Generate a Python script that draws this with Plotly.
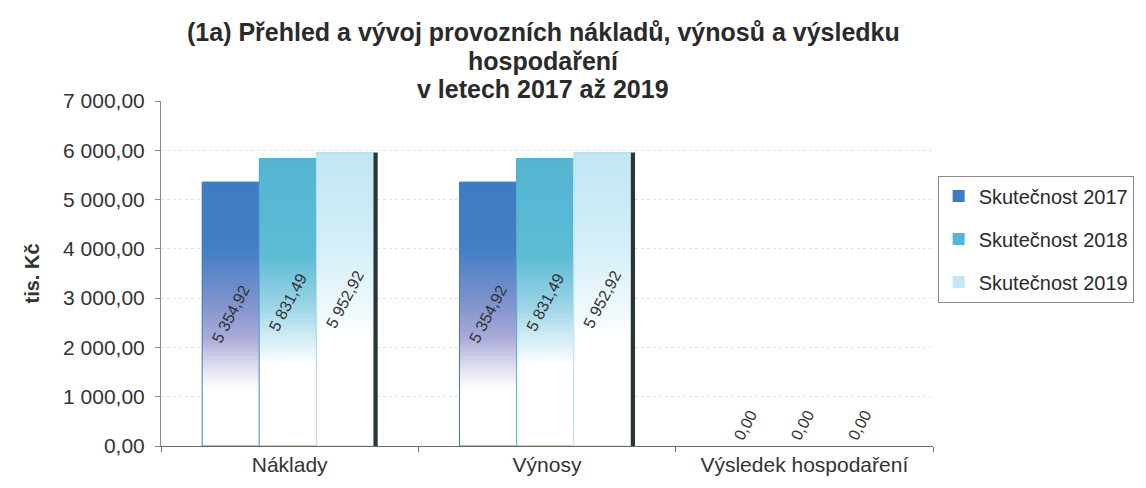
import plotly.graph_objects as go

# ---------------- data ----------------
categories = ["Náklady", "Výnosy", "Výsledek hospodaření"]
series_names = ["Skutečnost 2017", "Skutečnost 2018", "Skutečnost 2019"]
values_2017 = [5354.92, 5354.92, 0.00]
values_2018 = [5831.49, 5831.49, 0.00]
values_2019 = [5952.92, 5952.92, 0.00]
y_ticks = [0, 1000, 2000, 3000, 4000, 5000, 6000, 7000]

title_lines = ["(1a) Přehled a vývoj provozních nákladů, výnosů a výsledku",
               "hospodaření",
               "v letech 2017 až 2019"]
y_title = "<b>tis. Kč</b>"

# ---------------- styling ----------------
FONT = "Liberation Sans, Arial, sans-serif"
series_values = [values_2017, values_2018, values_2019]
top_colors = ["#3d7cc3", "#55b6d2", "#c3e6f4"]
edge_colors = ["#3f7fc0", "#4faccb", "#b4dcee"]
offsets = [-0.34, -0.118, 0.104]
bar_w = 0.222
# vertical gradient stops (fraction of bar height -> colour), fading to white at the bottom
grad_stops = [
    [(1.0, "#3d7cc3"), (0.75, "#447ec4"), (0.55, "#7e93cc"), (0.42, "#a9aad8"), (0.30, "#e3e1f1"), (0.22, "#ffffff"), (0.0, "#ffffff")],
    [(1.0, "#55b6d2"), (0.67, "#5dbbd5"), (0.50, "#9ad3e5"), (0.38, "#d3edf5"), (0.29, "#ffffff"), (0.0, "#ffffff")],
    [(1.0, "#c3e6f4"), (0.70, "#d3eef8"), (0.45, "#f2fafd"), (0.38, "#ffffff"), (0.0, "#ffffff")],
]


def hex2rgb(h):
    h = h.lstrip("#")
    return tuple(int(h[i:i + 2], 16) for i in (0, 2, 4))


def color_at(stops, f):
    for (f1, c1), (f0, c0) in zip(stops[:-1], stops[1:]):
        if f0 <= f <= f1:
            t = 0 if f1 == f0 else (f - f0) / (f1 - f0)
            a, b = hex2rgb(c0), hex2rgb(c1)
            r = [round(a[i] + (b[i] - a[i]) * t) for i in range(3)]
            return "rgb(%d,%d,%d)" % tuple(r)
    return stops[-1][1]


fig = go.Figure()

steps = [round(0.985 - 0.015 * k, 3) for k in range(54)]  # 0.985 .. 0.19

for i, (name, vals) in enumerate(zip(series_names, series_values)):
    # base bar (top colour) – carries the legend entry
    fig.add_trace(go.Bar(
        x=categories, y=vals, name=name, legendgroup=name,
        offset=offsets[i], width=bar_w,
        marker=dict(color=top_colors[i], line=dict(width=0)),
        hoverinfo="skip",
    ))
    # gradient overlays
    for f in steps:
        fig.add_trace(go.Bar(
            x=categories, y=[v * f for v in vals], showlegend=False,
            offset=offsets[i], width=bar_w, legendgroup=name,
            marker=dict(color=color_at(grad_stops[i], f), line=dict(width=0)),
            hoverinfo="skip",
        ))
    # outline + data labels on top
    fig.add_trace(go.Bar(
        x=categories, y=vals, showlegend=False, legendgroup=name,
        offset=offsets[i], width=bar_w,
        marker=dict(color="rgba(0,0,0,0)",
                    line=dict(width=[1 if v > 0 else 0 for v in vals], color=edge_colors[i])),
        texttemplate="%{y:,.2f}",
        textposition=["inside" if v > 0 else "outside" for v in vals],
        insidetextanchor="middle",
        textangle=-62,
        textfont=dict(family=FONT, size=16, color="#333333"),
        cliponaxis=False,
        hovertemplate=name + ": %{y:,.2f}<extra></extra>",
    ))

# depth shadow right of the last bar of each group
fig.add_trace(go.Bar(
    x=categories, y=values_2019, showlegend=False, legendgroup=series_names[2],
    offset=offsets[2] + bar_w, width=0.016,
    marker=dict(color="#2c3631", line=dict(width=0)),
    hoverinfo="skip",
))

# title lines (tight line spacing as in the reference)
title_y = [1.199, 1.117, 1.035]
for txt, yy in zip(title_lines, title_y):
    fig.add_annotation(text="<b>" + txt + "</b>", xref="paper", yref="paper",
                       x=0.495, y=yy, xanchor="center", yanchor="middle",
                       showarrow=False,
                       font=dict(family=FONT, size=25, color="#2a2a2a"))

fig.update_layout(
    width=1146, height=488,
    margin=dict(l=161, r=201, t=101, b=35),
    paper_bgcolor="white", plot_bgcolor="white",
    barmode="overlay",
    separators=", ",
    font=dict(family=FONT, size=21, color="#333333"),
    legend=dict(x=1.006, xanchor="left", y=0.784, yanchor="top",
                bordercolor="#8a8a8a", borderwidth=1, bgcolor="white",
                font=dict(family=FONT, size=20, color="#2a2a2a"),
                tracegroupgap=14, traceorder="grouped"),
    showlegend=True,
)
fig.update_yaxes(
    range=[0, 7000], tickvals=y_ticks, tickformat=",.2f",
    showline=True, linecolor="#8a8a8a", linewidth=1,
    ticks="outside", ticklen=5, tickcolor="#8a8a8a", ticklabelstandoff=6,
    showgrid=True, gridcolor="#e4e4e4", griddash="dot",
    zeroline=False,
    tickfont=dict(family=FONT, size=21, color="#333333"),
    title=dict(text=y_title, standoff=18, font=dict(family=FONT, size=20, color="#333333")),
)
fig.update_xaxes(
    showline=True, linecolor="#6a6a6a", linewidth=1,
    ticks="outside", ticklen=5, tickcolor="#6a6a6a", tickson="boundaries",
    tickfont=dict(family=FONT, size=21, color="#333333"),
)

fig.write_html("out.html", config={"displayModeBar": False},
               post_script="document.body.style.margin='0';document.body.style.overflow='hidden';")
